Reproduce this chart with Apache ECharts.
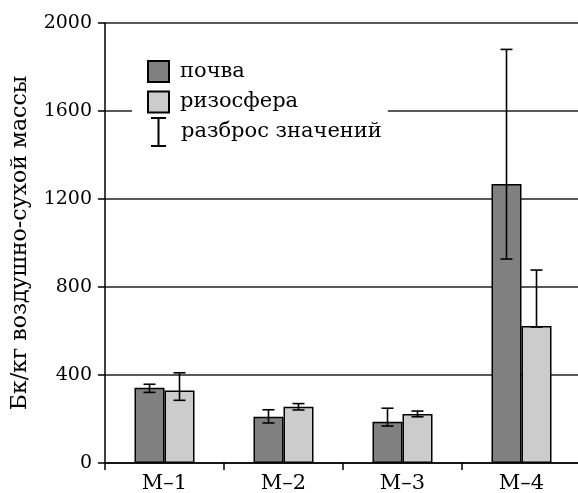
<!DOCTYPE html>
<html>
<head>
<meta charset="utf-8">
<script src="https://cdn.jsdelivr.net/npm/echarts@6/dist/echarts.min.js"></script>
<style>html,body{margin:0;padding:0;background:#fff}#c{width:578px;height:493px}</style>
</head>
<body>
<div id="c"></div>
<script>
var categories = ['М–1', 'М–2', 'М–3', 'М–4'];
var soil = [342, 210, 188, 1268];
var soilLow = [321, 182, 168, 927];
var soilHigh = [358, 242, 249, 1880];
var rhizo = [330, 256, 223, 623];
var rhizoLow = [285, 241, 210, 618];
var rhizoHigh = [410, 270, 236, 877];
var yTicks = [0, 400, 800, 1200, 1600, 2000];

var FONT = 'DejaVu Serif';
var BAR_W = 30;

var errData = [];
for (var i = 0; i < categories.length; i++) {
  errData.push([i, soilLow[i], soilHigh[i], -1]);
  errData.push([i, rhizoLow[i], rhizoHigh[i], 1]);
}

var chart = echarts.init(document.getElementById('c'), null, {renderer: 'canvas'});
chart.setOption({
  animation: false,
  backgroundColor: '#fff',
  textStyle: {fontFamily: FONT, color: '#000'},
  grid: {left: 105, top: 23, width: 476, height: 440, containLabel: false, outerBoundsMode: 'none'},
  legend: [{
    orient: 'vertical',
    left: 132, top: 52,
    padding: [8, 20, 0, 15],
    backgroundColor: '#fff',
    itemWidth: 21, itemHeight: 21, itemGap: 7.5,
    icon: 'rect',
    textStyle: {fontFamily: FONT, fontSize: 21, color: '#000', padding: [0, 0, 0, 6]},
    data: ['почва', 'ризосфера'],
    z: 10
  }, {
    orient: 'vertical',
    left: 132, top: 106,
    padding: [11, 6, 6, 19],
    backgroundColor: '#fff',
    itemWidth: 15, itemHeight: 30,
    textStyle: {fontFamily: FONT, fontSize: 21, color: '#000', padding: [0, 0, 0, 10]},
    data: [{name: 'разброс значений', icon: 'path://M0,0H15V2H8.5V28H15V30H0V28H6.5V2H0Z', itemStyle: {color: '#000', borderWidth: 0}}],
    z: 10
  }],
  xAxis: {
    type: 'category',
    data: categories,
    axisLine: {lineStyle: {color: '#000', width: 1.5}},
    axisTick: {show: true, length: 7, lineStyle: {color: '#000', width: 1.5}},
    axisLabel: {fontFamily: FONT, fontSize: 21, color: '#000', margin: 10}
  },
  yAxis: {
    type: 'value',
    min: 0, max: 2000, interval: 400,
    name: 'Бк/кг воздушно-сухой массы',
    nameLocation: 'middle',
    nameRotate: 90,
    nameGap: 74,
    nameTextStyle: {fontFamily: FONT, fontSize: 22, color: '#000'},
    axisLine: {show: true, lineStyle: {color: '#000', width: 1.5}},
    axisTick: {show: true, length: 7, lineStyle: {color: '#000', width: 1.5}},
    axisLabel: {fontFamily: FONT, fontSize: 19, color: '#000', margin: 13,
      formatter: function (v) { return yTicks.indexOf(v) >= 0 ? String(v) : ''; }},
    splitLine: {show: true, lineStyle: {color: '#222', width: 1.5}}
  },
  series: [{
    name: 'почва', type: 'bar', data: soil, barWidth: BAR_W, barGap: '0%',
    itemStyle: {color: '#808080', borderColor: '#000', borderWidth: 1.5}, z: 2
  }, {
    name: 'ризосфера', type: 'bar', data: rhizo, barWidth: BAR_W, barGap: '0%',
    itemStyle: {color: '#cccccc', borderColor: '#000', borderWidth: 1.5}, z: 2
  }, {
    name: 'разброс значений', type: 'custom', data: errData, z: 5,
    itemStyle: {color: '#000'},
    encode: {x: 0, y: [1, 2]},
    renderItem: function (params, api) {
      var c = api.value(0);
      var lo = api.coord([c, api.value(1)]);
      var hi = api.coord([c, api.value(2)]);
      var x = lo[0] + api.value(3) * BAR_W / 2;
      var cap = 6;
      var st = {stroke: '#000', lineWidth: 1.6, fill: null};
      return {type: 'group', children: [
        {type: 'line', shape: {x1: x, y1: lo[1], x2: x, y2: hi[1]}, style: st},
        {type: 'line', shape: {x1: x - cap, y1: lo[1], x2: x + cap, y2: lo[1]}, style: st},
        {type: 'line', shape: {x1: x - cap, y1: hi[1], x2: x + cap, y2: hi[1]}, style: st}
      ]};
    }
  }]
});
</script>
</body>
</html>
